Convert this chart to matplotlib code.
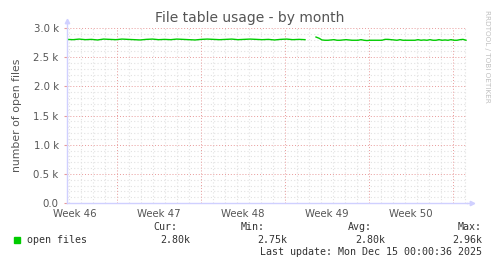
import numpy as np
import pandas as pd
import matplotlib
matplotlib.use("Agg")
import matplotlib.pyplot as plt
from matplotlib.ticker import MultipleLocator, FuncFormatter

# data (open files), two segments with a gap between them
seg1_start, seg1_end = "2025-11-12 20:00", "2025-12-02 16:00"
seg1_vals = [2805, 2800, 2810, 2800, 2805, 2795, 2810, 2805, 2800, 2810,
             2805, 2800, 2795, 2805, 2810, 2800, 2805, 2800, 2810, 2805,
             2800, 2795, 2805, 2810, 2805, 2800, 2805, 2810, 2800, 2805,
             2810, 2805, 2800, 2805, 2795, 2805, 2810, 2800, 2805, 2800]
seg2_start, seg2_end = "2025-12-03 14:00", "2025-12-16 02:00"
seg2_vals = [2845, 2825, 2795, 2790, 2790, 2795, 2800, 2790, 2790, 2795,
             2800, 2795, 2790, 2790, 2790, 2800, 2790, 2785, 2790, 2790,
             2790, 2790, 2790, 2805, 2805, 2800, 2795, 2790, 2800, 2790,
             2790, 2790, 2790, 2790, 2800, 2790, 2795, 2790, 2800, 2790,
             2790, 2800, 2790, 2795, 2790, 2800, 2790, 2790, 2800, 2805, 2790]

week_starts = ["2025-11-17", "2025-11-24", "2025-12-01", "2025-12-08", "2025-12-15"]
week_labels = ["Week 46", "Week 47", "Week 48", "Week 49", "Week 50"]
x_start, x_end = "2025-11-12 20:00", "2025-12-16 04:00"

legend_label = "open files"
stats = {"Cur:": "2.80k", "Min:": "2.75k", "Avg:": "2.80k", "Max:": "2.96k"}
last_update = "Last update: Mon Dec 15 00:00:36 2025"

green = "#00cc00"
axis_col = "#d0d0ff"
minor_col = "#e2e2e2"
major_col = "#e89a9a"
txt = "#555555"

t1 = pd.date_range(seg1_start, seg1_end, periods=len(seg1_vals))
t2 = pd.date_range(seg2_start, seg2_end, periods=len(seg2_vals))

fig = plt.figure(figsize=(4.97, 2.64), dpi=100)
ax = fig.add_axes([67/497, 61/264, 400/497, 175/264])

ax.plot(t1, seg1_vals, color=green, lw=1.0, zorder=3)
ax.plot(t2, seg2_vals, color=green, lw=1.0, zorder=3)

ax.set_xlim(pd.Timestamp(x_start), pd.Timestamp(x_end))
ax.set_ylim(0, 3000)

# grid
wk = [pd.Timestamp(w) for w in week_starts]
days = pd.date_range("2025-11-13", "2025-12-16", freq="D")
for d in days:
    if d in wk:
        continue
    ax.axvline(d, color=minor_col, lw=0.8, ls=(0, (1, 2)), zorder=1)
for w in wk:
    ax.axvline(w, color=major_col, lw=0.7, ls=(0, (1, 2)), zorder=1.5)
for v in range(100, 3001, 100):
    c = major_col if v % 500 == 0 else minor_col
    ax.axhline(v, color=c, lw=0.7 if v % 500 == 0 else 0.8, ls=(0, (1, 2)), zorder=1)

# ticks
mids = [w - pd.Timedelta(hours=84) for w in wk]
ax.set_xticks(mids)
ax.set_xticklabels(week_labels)
ax.yaxis.set_major_locator(MultipleLocator(500))
ax.yaxis.set_major_formatter(FuncFormatter(lambda v, p: "0.0" if v == 0 else f"{v/1000:.1f} k"))
ax.tick_params(axis="x", length=0, pad=4, labelsize=7.3, colors=txt)
ax.tick_params(axis="y", length=2, pad=4, labelsize=7.3, colors=txt, color=major_col)

for s in ["top", "right"]:
    ax.spines[s].set_visible(False)
for s in ["left", "bottom"]:
    ax.spines[s].set_color(axis_col)
    ax.spines[s].set_linewidth(1.0)
    ax.spines[s].set_zorder(4)
ax.spines["left"].set_bounds(0, 3080)
ax.plot([0], [1.04], marker="^", ms=3.2, color=axis_col, transform=ax.transAxes, clip_on=False)
ax.plot([1.0, 1.01], [0, 0], color=axis_col, lw=1.0, transform=ax.transAxes, clip_on=False)
ax.plot([1.013], [0], marker=">", ms=3.2, color=axis_col, transform=ax.transAxes, clip_on=False)

ax.set_ylabel("number of open files", fontsize=7.8, color=txt, labelpad=8)
fig.text(250/497, 1 - 18/264, "File table usage - by month", ha="center", va="center",
         fontsize=10, color=txt)
fig.text(487/497, 1 - 10/264, "RRDTOOL / TOBI OETIKER", rotation=270, ha="center", va="top",
         fontsize=5.2, color="#c0c0c0")

# legend area
mono = "DejaVu Sans Mono"
fig.patches.append(plt.Rectangle((14/497, 1 - 243/264), 6/497, 6/264, transform=fig.transFigure,
                                 color=green, figure=fig))
fig.text(27/497, 1 - 240/264, legend_label, family=mono, fontsize=7.2, color="#333333", va="center")
for (k, v), xr in zip(stats.items(), [177, 265, 372, 482]):
    fig.text(xr/497, 1 - 227/264, k, family=mono, fontsize=7.2, color="#333333", ha="right", va="center")
for (k, v), xr in zip(stats.items(), [190, 287, 385, 482]):
    fig.text(xr/497, 1 - 240/264, v, family=mono, fontsize=7.2, color="#333333", ha="right", va="center")
fig.text(482/497, 1 - 252/264, last_update, family=mono, fontsize=7.2, color="#333333",
         ha="right", va="center")

fig.savefig("out.png", dpi=100)
